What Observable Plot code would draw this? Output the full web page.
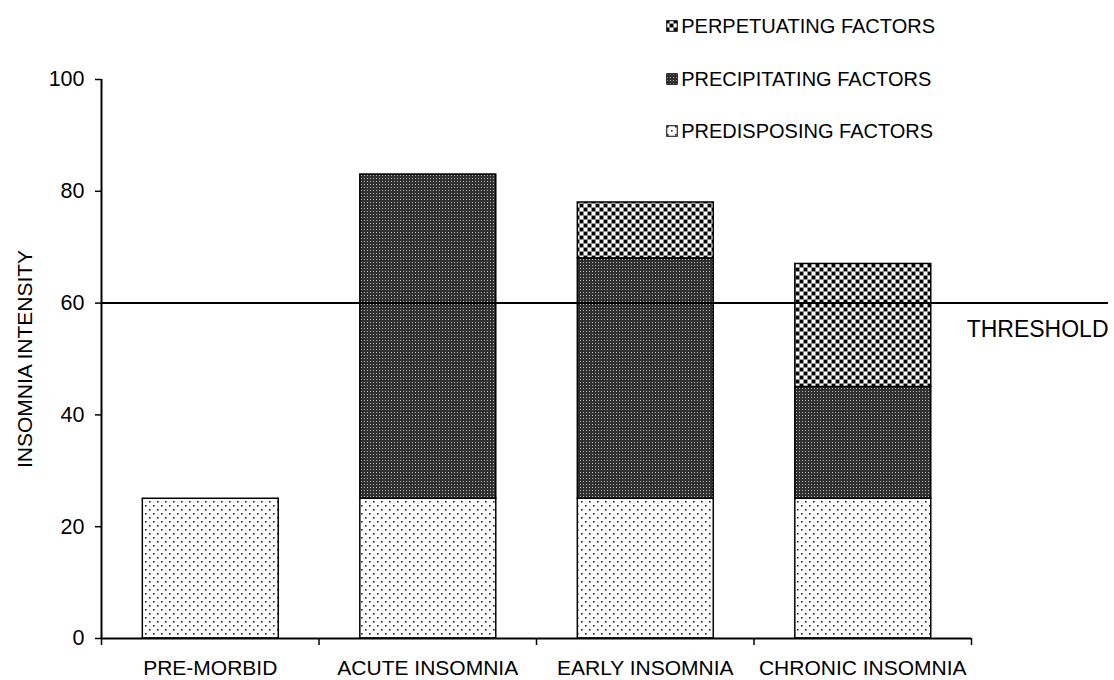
<!DOCTYPE html>
<html><head><meta charset="utf-8">
<script src="https://cdn.jsdelivr.net/npm/d3@7"></script>
<script src="https://cdn.jsdelivr.net/npm/@observablehq/plot@0.6"></script>
<style>
body{margin:0;background:#fff;font-family:"Liberation Sans",Arial,sans-serif;}
#wrap{position:relative;width:1114px;height:680px;}
#legend{position:absolute;top:16px;right:179px;display:flex;flex-direction:column;gap:32.5px;font-size:20px;line-height:20px;color:#000;}
#legend .item{display:flex;align-items:center;gap:3px;}
#legend svg{display:block;}
</style></head><body><div id="wrap"><div id="legend"></div></div>
<script>
const categories = ["PRE-MORBID", "ACUTE INSOMNIA", "EARLY INSOMNIA", "CHRONIC INSOMNIA"];
const predisposing = [25, 25, 25, 25];
const precipitating = [0, 58, 43, 20];
const perpetuating = [0, 0, 10, 22];
const seriesNames = ["PREDISPOSING FACTORS", "PRECIPITATING FACTORS", "PERPETUATING FACTORS"];
const legendOrder = ["PERPETUATING FACTORS", "PRECIPITATING FACTORS", "PREDISPOSING FACTORS"];
const yTicks = [0, 20, 40, 60, 80, 100];
const threshold = 60;
const thresholdLabel = "THRESHOLD";
const yLabel = "INSOMNIA INTENSITY";

const patternIds = {
  "PREDISPOSING FACTORS": "pat-pre",
  "PRECIPITATING FACTORS": "pat-prec",
  "PERPETUATING FACTORS": "pat-perp"
};
const seriesValues = [predisposing, precipitating, perpetuating];

// stacked segments
const rows = [];
categories.forEach((c, i) => {
  let cum = 0;
  seriesValues.forEach((vals, s) => {
    const v = vals[i];
    if (v > 0) {
      rows.push({i, category: c, series: seriesNames[s], y1: cum, y2: cum + v});
      cum += v;
    }
  });
});

const barMarks = seriesNames.map(name =>
  Plot.rect(rows.filter(r => r.series === name), {
    x1: d => d.i + 0.19, x2: d => d.i + 0.815, y1: "y1", y2: "y2",
    fill: `url(#${patternIds[name]})`, stroke: "#000", strokeWidth: 1.5
  })
);

const plot = Plot.plot({
  width: 1114, height: 680,
  marginLeft: 101, marginRight: 6, marginTop: 79, marginBottom: 42,
  style: {fontFamily: '"Liberation Sans", Arial, sans-serif', fontSize: "21px", color: "#000", background: "#fff"},
  x: {type: "linear", domain: [0, categories.length], insetRight: 137},
  y: {domain: [0, 100]},
  marks: [
    ...barMarks,
    Plot.ruleY([threshold], {stroke: "#000", strokeWidth: 2}),
    Plot.ruleY([0], {x1: 0, x2: categories.length, stroke: "#000", strokeWidth: 2}),
    Plot.ruleX([0], {y1: 0, y2: 100, stroke: "#000", strokeWidth: 2}),
    Plot.axisY({ticks: yTicks, tickSize: 6, tickPadding: 11, tickFormat: d => String(d), label: null, strokeWidth: 1.5, fontSize: 21.5}),
    Plot.axisX({ticks: categories.map((c, i) => i + 0.5), tickSize: 0, tickPadding: 22, tickFormat: t => categories[Math.floor(t)], label: null, fontSize: 21}),
    Plot.axisX({ticks: d3.range(categories.length + 1), tickSize: 7, tickFormat: () => "", label: null, strokeWidth: 1.5}),
    Plot.text([yLabel], {text: d => d, frameAnchor: "left", rotate: -90, textAnchor: "middle", dx: -76, fontSize: 21}),
    Plot.text([thresholdLabel], {text: d => d, frameAnchor: "right", y: () => threshold, dy: 27, textAnchor: "end", fontSize: 23})
  ]
});

// patterns
const svg = d3.select(plot);
const defs = svg.insert("defs", ":first-child");
// predisposing: sparse dots
const p1 = defs.append("pattern").attr("id", "pat-pre").attr("patternUnits", "userSpaceOnUse").attr("width", 8).attr("height", 8);
p1.append("rect").attr("width", 8).attr("height", 8).attr("fill", "#fff");
p1.append("rect").attr("x", 1).attr("y", 1).attr("width", 1.6).attr("height", 1.6).attr("fill", "#2a2a2a");
p1.append("rect").attr("x", 5).attr("y", 5).attr("width", 1.6).attr("height", 1.6).attr("fill", "#2a2a2a");
// precipitating: dark with fine light grid
const p2 = defs.append("pattern").attr("id", "pat-prec").attr("patternUnits", "userSpaceOnUse").attr("width", 3).attr("height", 3);
p2.append("rect").attr("width", 3).attr("height", 3).attr("fill", "#303030");
p2.append("rect").attr("x", 1).attr("y", 1).attr("width", 1).attr("height", 1).attr("fill", "#b8b8b8");
// perpetuating: checkerboard
const p3 = defs.append("pattern").attr("id", "pat-perp").attr("patternUnits", "userSpaceOnUse").attr("width", 8).attr("height", 8);
p3.append("rect").attr("width", 8).attr("height", 8).attr("fill", "#909090");
p3.append("rect").attr("x", 0).attr("y", 0).attr("width", 3).attr("height", 3).attr("fill", "#000");
p3.append("rect").attr("x", 4).attr("y", 4).attr("width", 3).attr("height", 3).attr("fill", "#000");
p3.append("rect").attr("x", 4).attr("y", 0).attr("width", 3).attr("height", 3).attr("fill", "#fff");
p3.append("rect").attr("x", 0).attr("y", 4).attr("width", 3).attr("height", 3).attr("fill", "#fff");

const wrap = document.getElementById("wrap");
wrap.insertBefore(plot, wrap.firstChild);

// legend
const legend = d3.select("#legend");
legendOrder.forEach(name => {
  const item = legend.append("div").attr("class", "item");
  const s = item.append("svg").attr("width", 12).attr("height", 12);
  s.append("rect").attr("x", 0.75).attr("y", 0.75).attr("width", 10.5).attr("height", 10.5)
    .attr("fill", `url(#${patternIds[name]})`).attr("stroke", "#000").attr("stroke-width", 1);
  item.append("span").text(name);
});
</script>
</body></html>
